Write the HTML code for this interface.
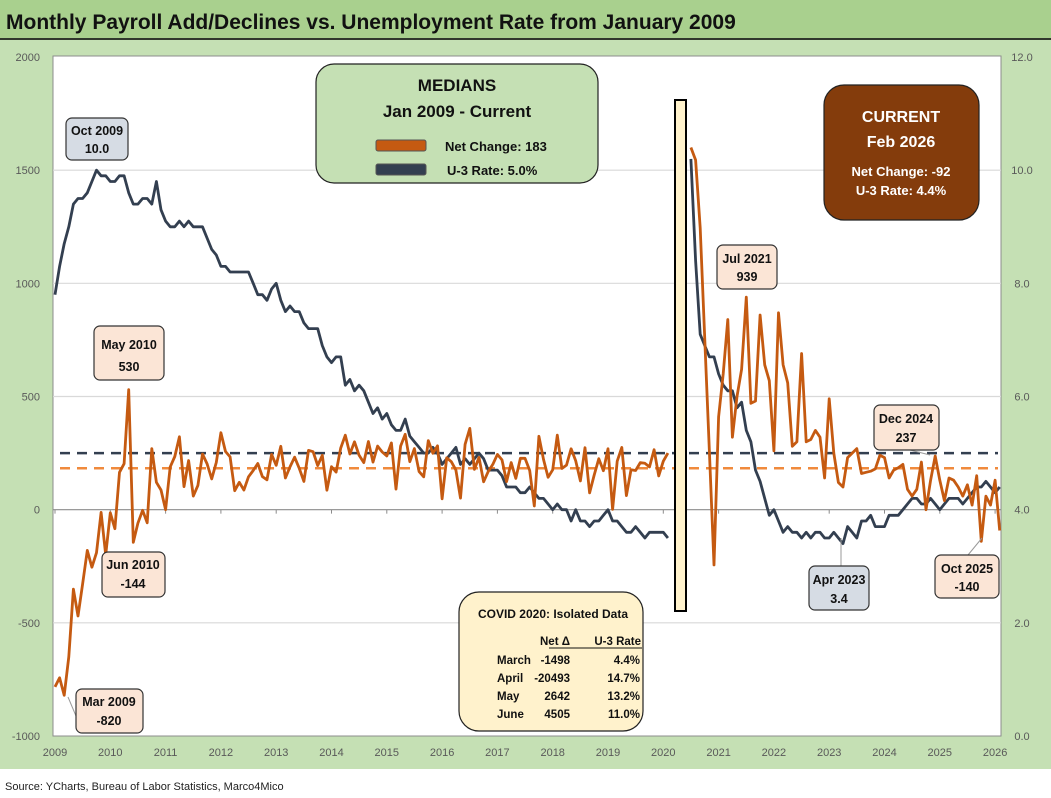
<!DOCTYPE html>
<html><head><meta charset="utf-8"><style>
body{margin:0;width:1051px;height:798px;overflow:hidden;background:#fff;font-family:"Liberation Sans",sans-serif}
svg{display:block}
text{font-family:"Liberation Sans",sans-serif}
</style></head><body>
<svg id="chart" width="1051" height="798" viewBox="0 0 1051 798">
<rect x="0" y="0" width="1051" height="769" fill="#c5e0b4"/>
<rect x="0" y="0" width="1051" height="38" fill="#a9d08e"/>
<line x1="0" y1="39" x2="1051" y2="39" stroke="#000" stroke-width="1.5"/>
<text x="6" y="29" font-size="21" font-weight="bold" fill="#111">Monthly Payroll Add/Declines vs. Unemployment Rate from January 2009</text>
<rect x="53" y="56" width="948" height="680" fill="#fff" stroke="#8c8c8c" stroke-width="1"/>
<g id="grid"></g>
<g id="axes"></g>
<g id="series"></g>
<text x="5" y="790" font-size="11" fill="#222">Source: YCharts, Bureau of Labor Statistics, Marco4Mico</text>
</svg>
<script>
const years = [2009,2010,2011,2012,2013,2014,2015,2016,2017,2018,2019,2020,2021,2022,2023,2024,2025,2026];
const leftTicks = [-1000,-500,0,500,1000,1500,2000];
const rightTicks = ["0.0","2.0","4.0","6.0","8.0","10.0","12.0"];
const payroll = [
-783,-743,-820,-650,-351,-470,-329,-180,-254,-190,-12,-200,
-14,-84,165,203,530,-144,-60,-3,-58,270,121,87,
0,189,235,322,102,217,60,107,246,202,136,209,
340,257,233,84,121,87,145,173,204,146,132,244,
196,280,140,189,232,183,125,262,256,195,240,86,
190,166,272,329,246,300,240,208,301,210,281,255,
237,295,91,281,333,212,270,168,145,305,249,282,
48,229,212,175,51,289,359,178,231,123,168,200,
244,220,124,208,138,227,227,173,16,324,222,143,
176,329,182,197,269,216,127,274,74,153,225,172,
269,1,214,275,62,176,173,208,205,189,265,149,
214,250,null,null,null,null,1600,1545,1245,750,256,-244,
410,600,840,320,500,620,939,470,480,860,640,570,
260,870,640,560,280,300,690,300,310,350,320,140,
490,250,120,100,230,250,270,160,165,170,180,240,
230,140,175,185,200,90,60,90,210,0,130,237,
130,40,140,130,100,60,110,20,150,-140,60,20,
130,-92];
const unemp = [
7.8,8.3,8.7,9.0,9.4,9.5,9.5,9.6,9.8,10.0,9.9,9.9,
9.8,9.8,9.9,9.9,9.6,9.4,9.4,9.5,9.5,9.4,9.8,9.3,
9.1,9.0,9.0,9.1,9.0,9.1,9.0,9.0,9.0,8.8,8.6,8.5,
8.3,8.3,8.2,8.2,8.2,8.2,8.2,8.0,7.8,7.8,7.7,7.9,
8.0,7.7,7.5,7.6,7.5,7.5,7.3,7.2,7.2,7.2,6.9,6.7,
6.6,6.7,6.7,6.2,6.3,6.1,6.2,6.1,5.9,5.7,5.8,5.6,
5.7,5.5,5.4,5.4,5.6,5.3,5.2,5.1,5.0,5.0,5.1,5.0,
4.8,4.9,5.0,5.1,4.8,4.9,4.8,4.9,5.0,4.9,4.7,4.7,
4.7,4.6,4.4,4.4,4.4,4.3,4.3,4.4,4.3,4.2,4.2,4.1,
4.0,4.1,4.0,4.0,3.8,4.0,3.8,3.8,3.7,3.8,3.8,3.9,
4.0,3.8,3.8,3.7,3.6,3.6,3.7,3.6,3.5,3.6,3.6,3.6,
3.6,3.5,null,null,null,null,10.2,8.4,7.1,6.9,6.7,6.7,
6.4,6.2,6.1,6.1,5.8,5.9,5.4,5.2,4.7,4.5,4.2,3.9,
4.0,3.8,3.6,3.7,3.6,3.6,3.5,3.6,3.5,3.6,3.6,3.5,
3.5,3.6,3.5,3.4,3.7,3.6,3.5,3.8,3.8,3.9,3.7,3.7,
3.7,3.9,3.9,3.9,4.0,4.1,4.2,4.2,4.1,4.1,4.2,4.1,
4.0,4.1,4.2,4.2,4.2,4.1,4.2,4.3,4.4,4.4,4.5,4.4,
4.3,4.4];
const medianPayroll = 183;
const medianUnemp = 5.0;

const NS = "http://www.w3.org/2000/svg";
const X0 = 55, PX_PER_YEAR = 55.3;
const xOf = i => X0 + i * PX_PER_YEAR / 12;
const yL = v => 736 - (v + 1000) * 679 / 3000;
const yR = v => 736 - v * 679 / 12;
function mk(tag, attrs, parent, txt){const e=document.createElementNS(NS,tag);for(const k in attrs)e.setAttribute(k,attrs[k]);if(txt!==undefined)e.textContent=txt;parent.appendChild(e);return e;}
const grid=document.getElementById('grid'), axes=document.getElementById('axes'), ser=document.getElementById('series');

leftTicks.forEach((t,i)=>{
  const y=yL(t);
  if(t!==0 && t!==-1000 && t!==2000){const g=mk('line',{x1:53,x2:1001,y1:y,y2:y,stroke:'#d9d9d9','stroke-width':1.2},grid);
  
  }
  const l=mk('text',{x:40,y:y+4,'font-size':11,fill:'#595959','text-anchor':'end'},axes,String(t));
  
  
  const r=mk('text',{x:1022,y:yR(parseFloat(rightTicks[i]))+4,'font-size':11,fill:'#595959','text-anchor':'middle'},axes,rightTicks[i]);
  
  
});
const zl=mk('line',{x1:53,x2:1001,y1:yL(0),y2:yL(0),stroke:'#8c8c8c','stroke-width':1.2},axes);


years.forEach((yr,i)=>{
  const x=xOf(i*12);
  const tk=mk('line',{x1:x,x2:x,y1:yL(0),y2:yL(0)+4,stroke:'#8c8c8c'},axes);
  
  
  const t=mk('text',{x:x,y:756,'font-size':11,fill:'#595959','text-anchor':'middle'},axes,String(yr));
  
  
});

const mp=mk('line',{x1:60,x2:998,y1:yL(medianPayroll),y2:yL(medianPayroll),stroke:'#f08a3c','stroke-width':2.5,'stroke-dasharray':'10 7'},ser);


const mu=mk('line',{x1:60,x2:998,y1:yR(medianUnemp),y2:yR(medianUnemp),stroke:'#333f50','stroke-width':2.5,'stroke-dasharray':'10 7'},ser);



function pathFor(arr, yf){
  let d='',pen=false;
  arr.forEach((v,i)=>{ if(v===null){pen=false;return;} d+=(pen?'L':'M')+xOf(i).toFixed(1)+' '+yf(v).toFixed(1)+' '; pen=true;});
  return d;
}
const pu=mk('path',{d:pathFor(unemp,yR),fill:'none',stroke:'#333f50','stroke-width':2.8,'stroke-linejoin':'round'},ser);


const pp=mk('path',{d:pathFor(payroll,yL),fill:'none',stroke:'#c55a11','stroke-width':2.8,'stroke-linejoin':'round'},ser);


</script>
<svg width="1051" height="798" style="position:absolute;left:0;top:0">
<g font-size="12.5" font-weight="bold" fill="#111" text-anchor="middle">
<g>
<rect x="675" y="100" width="11" height="511" fill="#fff2cc" stroke="#000" stroke-width="2"/>
</g>
<g><rect x="66" y="118" width="62" height="42" rx="6" fill="#d6dce4" stroke="#333" stroke-width="1.2"/><text x="97" y="135">Oct 2009</text><text x="97" y="153">10.0</text></g>
<g><rect x="94" y="326" width="70" height="54" rx="6" fill="#fbe5d6" stroke="#333" stroke-width="1.2"/><text x="129" y="349">May 2010</text><text x="129" y="371">530</text></g>
<g><rect x="102" y="552" width="63" height="45" rx="6" fill="#fbe5d6" stroke="#333" stroke-width="1.2"/><text x="133" y="569">Jun 2010</text><text x="133" y="588">-144</text></g>
<line x1="68" y1="697" x2="76" y2="716" stroke="#999"/>
<g><rect x="76" y="689" width="67" height="44" rx="6" fill="#fbe5d6" stroke="#333" stroke-width="1.2"/><text x="109" y="706">Mar 2009</text><text x="109" y="725">-820</text></g>
<g><rect x="717" y="245" width="60" height="44" rx="6" fill="#fbe5d6" stroke="#333" stroke-width="1.2"/><text x="747" y="263">Jul 2021</text><text x="747" y="281">939</text></g>
<line x1="910" y1="450" x2="930" y2="455" stroke="#999"/>
<g><rect x="874" y="405" width="65" height="45" rx="6" fill="#fbe5d6" stroke="#333" stroke-width="1.2"/><text x="906" y="423">Dec 2024</text><text x="906" y="442">237</text></g>
<line x1="841" y1="538" x2="841" y2="566" stroke="#999"/>
<g><rect x="809" y="566" width="60" height="44" rx="6" fill="#d6dce4" stroke="#333" stroke-width="1.2"/><text x="839" y="584">Apr 2023</text><text x="839" y="603">3.4</text></g>
<line x1="982" y1="538" x2="968" y2="555" stroke="#999"/>
<g><rect x="935" y="555" width="64" height="43" rx="6" fill="#fbe5d6" stroke="#333" stroke-width="1.2"/><text x="967" y="573">Oct 2025</text><text x="967" y="591">-140</text></g>

<g>
<rect x="316" y="64" width="282" height="119" rx="18" fill="#c5e0b4" stroke="#222" stroke-width="1.2"/>
<text x="457" y="91" font-size="17">MEDIANS</text>
<text x="457" y="117" font-size="17">Jan 2009 - Current</text>
<rect x="376" y="140" width="50" height="11" rx="2" fill="#c55a11" stroke="#555"/>
<rect x="376" y="164" width="50" height="11" rx="2" fill="#333f50" stroke="#555"/>
<text x="445" y="151" text-anchor="start" font-size="13">Net Change: 183</text>
<text x="447" y="175" text-anchor="start" font-size="13">U-3 Rate: 5.0%</text>
</g>

<g fill="#fff">
<rect x="824" y="85" width="155" height="135" rx="20" fill="#843c0c" stroke="#222" stroke-width="1.2"/>
<text x="901" y="122" font-size="16">CURRENT</text>
<text x="901" y="147" font-size="16">Feb 2026</text>
<text x="901" y="176" font-size="13">Net Change: -92</text>
<text x="901" y="195" font-size="13">U-3 Rate: 4.4%</text>
</g>

<g font-size="11.5">
<rect x="459" y="592" width="184" height="139" rx="20" fill="#fff2cc" stroke="#222" stroke-width="1.2"/>
<text x="553" y="618" font-size="12">COVID 2020:  Isolated Data</text>
<text x="570" y="645" text-anchor="end">Net  Δ</text>
<text x="641" y="645" text-anchor="end">U-3 Rate</text>
<line x1="549" y1="648" x2="642" y2="648" stroke="#111"/>
<g text-anchor="start"><text x="497" y="664">March</text><text x="497" y="682">April</text><text x="497" y="700">May</text><text x="497" y="718">June</text></g>
<g text-anchor="end"><text x="570" y="664">-1498</text><text x="570" y="682">-20493</text><text x="570" y="700">2642</text><text x="570" y="718">4505</text>
<text x="640" y="664">4.4%</text><text x="640" y="682">14.7%</text><text x="640" y="700">13.2%</text><text x="640" y="718">11.0%</text></g>
</g>
</g>
</svg>
</body></html>
